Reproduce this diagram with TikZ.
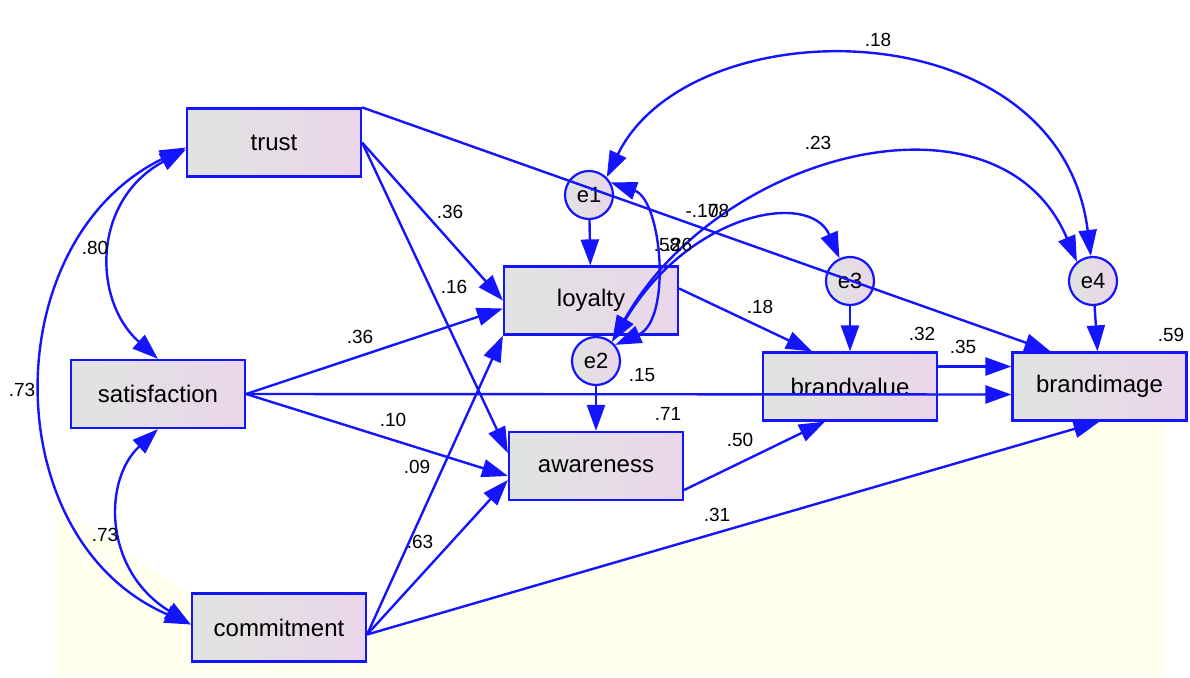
\documentclass[tikz,border=0pt]{standalone}
\usepackage{fontspec}
\setmainfont{Liberation Sans}
\usetikzlibrary{arrows.meta}

\definecolor{amosblue}{RGB}{20,20,255}
\definecolor{boxleft}{RGB}{224,228,224}
\definecolor{boxright}{RGB}{234,214,234}
\definecolor{paper}{RGB}{255,255,238}

\begin{document}
\begin{tikzpicture}[x=1pt,y=-1pt,
    obs/.style={draw=amosblue,line width=2.2pt,left color=boxleft,right color=boxright,
        minimum width=174pt,minimum height=68pt,inner sep=0pt,font=\fontsize{24}{27}\selectfont},
    err/.style={circle,draw=amosblue,line width=2.2pt,left color=boxleft,right color=boxright,
        minimum size=48pt,inner sep=0pt,font=\fontsize{22}{25}\selectfont},
    reg/.style={draw=amosblue,line width=2.4pt,-{Triangle[length=26pt,width=18pt]}},
    cov/.style={draw=amosblue,line width=2.4pt,{Triangle[length=26pt,width=18pt]}-{Triangle[length=26pt,width=18pt]}},
    coef/.style={inner sep=0pt,font=\fontsize{19}{21}\selectfont}]
    \useasboundingbox (0,0) rectangle (1190,677);
    % canvas
    \fill[paper] (55,505) -- (192,595) -- (366,634) -- (1099,420) -- (1165,400) -- (1165,677) -- (55,677) -- cycle;

    % observed variables
    \node[obs] (trust) at (274,142.5) {trust};
    \node[obs] (satisfaction) at (158,394) {satisfaction};
    \node[obs] (commitment) at (279,627.5) {commitment};
    \node[obs] (loyalty) at (591,300.5) {loyalty};
    \node[obs] (awareness) at (596,466) {awareness};
    \node[obs] (brandvalue) at (850,386.5) {brandvalue};
    \node[obs] (brandimage) at (1099.5,386.5) {brandimage};

    % error terms
    \node[err] (e1) at (589,195) {e1};
    \node[err] (e2) at (596,361) {e2};
    \node[err] (e3) at (850,281) {e3};
    \node[err] (e4) at (1093,281) {e4};

    % paths
    \draw[reg] (trust.east) -- (loyalty.west);
    \draw[reg] (trust.east) -- ([yshift=13pt]awareness.west);
    \draw[reg] (trust.north east) -- ([xshift=-49pt]brandimage.north);
    \draw[reg] (satisfaction.east) -- ([yshift=-8pt]loyalty.west);
    \draw[reg] (satisfaction.east) -- ([yshift=-8pt]brandimage.west);
    \draw[reg] (satisfaction.east) -- ([yshift=-10pt]awareness.west);
    \draw[reg] ([yshift=-7pt]commitment.east) -- (loyalty.south west);
    \draw[reg] ([yshift=-7pt]commitment.east) -- ([yshift=-14pt]awareness.west);
    \draw[reg] ([yshift=-7pt]commitment.east) -- (brandimage.south);
    \draw[reg] ([yshift=12pt]loyalty.east) -- ([xshift=-38pt]brandvalue.north);
    \draw[reg] ([yshift=-24pt]awareness.east) -- ([xshift=-25pt]brandvalue.south);
    \draw[reg] ([yshift=20pt]brandvalue.east) -- ([yshift=20pt]brandimage.west);
    \draw[reg] (e1) -- (loyalty);
    \draw[reg] (e2) -- (awareness);
    \draw[reg] (e3) -- (brandvalue);
    \draw[reg] (e4) -- ([xshift=-2pt]brandimage.north);

    % covariances
    \draw[cov] ([yshift=-7pt]trust.west) .. controls (92,200) and (92,300) .. (satisfaction.north);
    \draw[cov] ([yshift=-5pt]trust.west) .. controls (-5,240) and (-5,540) .. ([yshift=3pt]commitment.west);
    \draw[cov] (satisfaction.south) .. controls (103,480) and (103,570) .. ([yshift=3pt]commitment.west);
    \draw[cov] (e1.45) .. controls (690,6) and (1060,6) .. (e4.95);
    \draw[cov] (e2.50) .. controls (720,150) and (1000,80) .. (e4.130);
    \draw[cov] (e2.50) .. controls (690,212) and (810,190) .. (e3.115);
    \draw[cov] (e1.30) .. controls (662,200) and (672,320) .. (e2.40);

    % estimates
    \foreach \lx/\ly/\lt [count=\i] in {95/248/.80, 22/390/.73, 105/535/.73, 360/337/.36,
        393/420/.10, 417/467/.09, 420/542/.63, 668/414/.71, 740/440/.50, 717/515/.31,
        450/212/.36, 454/287/.16, 760/307/.18, 922/334/.32, 963/347/.35, 1171/335/.59,
        642/375/.15, 878/40/.18, 818/143/.23, 702/211/-.17, 716/211/.08, 667/245/.58, 679/245/.26}
        \node[coef] (est\i) at (\lx,\ly) {\lt};
\end{tikzpicture}
\end{document}
